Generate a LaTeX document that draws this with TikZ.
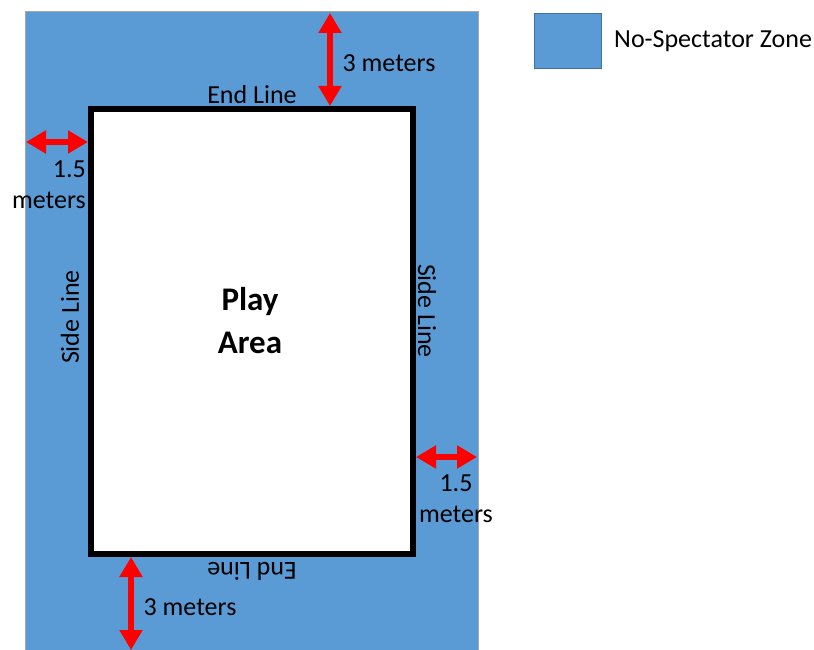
\documentclass[tikz,border=0pt]{standalone}
\usepackage{fontspec}
\setmainfont{Carlito}
\usetikzlibrary{arrows.meta, positioning}

\definecolor{zoneblue}{HTML}{5B9BD5}
\definecolor{zoneedge}{HTML}{A6A6A6}
\definecolor{keyedge}{HTML}{41719C}

\tikzset{
  zone/.style={fill=zoneblue, draw=zoneedge, line width=1pt},
  field/.style={fill=white, draw=black, line width=6pt},
  dimarrow/.style={red, line width=6pt,
    {Triangle[length=20pt,width=22pt]}-{Triangle[length=20pt,width=22pt]}},
  lbl/.style={font=\fontsize{26}{31}\selectfont, inner sep=0pt}
}

\begin{document}
\begin{tikzpicture}[x=1pt, y=-1pt]
  \useasboundingbox (0,0) rectangle (814,650);

  % no-spectator zone and play area
  \draw[zone] (25,12) rectangle (478,650);
  \draw[field] (91,109) rectangle (413,554);

  % arrow end points
  \coordinate (topout) at (330,13);
  \coordinate (topin) at (330,106);
  \coordinate (leftout) at (26,142);
  \coordinate (leftin) at (88,142);
  \coordinate (rightin) at (416,457);
  \coordinate (rightout) at (477,457);
  \coordinate (botin) at (131,557);
  \coordinate (botout) at (131,650);

  \draw[dimarrow] (topout) -- (topin);
  \draw[dimarrow] (leftout) -- (leftin);
  \draw[dimarrow] (rightin) -- (rightout);
  \draw[dimarrow] (botin) -- (botout);

  % labels
  \node[lbl] (topdist) at (389,63) {3 meters};
  \node[lbl] (topend) at (252,95) {End Line};
  \node[lbl, align=right, anchor=north east] (leftdist) at (86,161) {1.5\\meters};
  \node[lbl, rotate=90] (leftside) at (70,317) {Side Line};
  \node[lbl, rotate=-90] (rightside) at (427,311) {Side Line};
  \node[lbl, align=center, anchor=north] (rightdist) at (456,475) {1.5\\meters};
  \node[lbl, rotate=180] (botend) at (252,571) {End Line};
  \node[lbl] (botdist) at (190,607) {3 meters};
  \node[lbl, font=\fontsize{33}{43}\selectfont\bfseries, align=center] (playarea) at (250,321) {Play\\Area};

  % legend
  \node[fill=zoneblue, draw=keyedge, line width=1pt, minimum width=67pt,
        minimum height=55pt, inner sep=0pt] (legendkey) at (568,41) {};
  \node[lbl, right=12pt of legendkey] (legendtext) {No-Spectator Zone};
\end{tikzpicture}
\end{document}
